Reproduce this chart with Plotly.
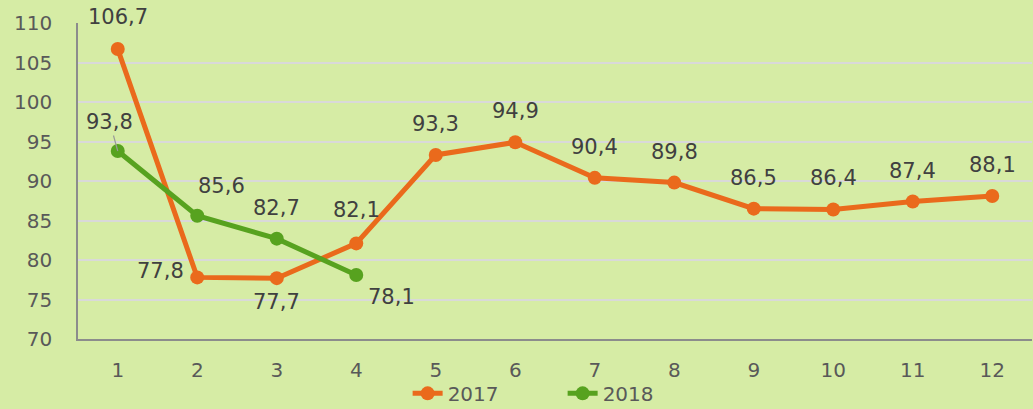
import plotly.graph_objects as go

months = [1, 2, 3, 4, 5, 6, 7, 8, 9, 10, 11, 12]
values_2017 = [106.7, 77.8, 77.7, 82.1, 93.3, 94.9, 90.4, 89.8, 86.5, 86.4, 87.4, 88.1]
months_2018 = [1, 2, 3, 4]
values_2018 = [93.8, 85.6, 82.7, 78.1]
y_ticks = [70, 75, 80, 85, 90, 95, 100, 105, 110]

# label offsets (pixels) per point
off_2017 = [(0, 32), (-37, 6), (0, -24), (0, 33)] + [(0, 31)] * 8
off_2018 = [(-8, 29), (24, 30), (0, 31), (35, -22)]

ORANGE = "#ea6a1c"
GREEN = "#57a21f"
BG = "#d6eca5"
FONT = "DejaVu Sans"
LBL = dict(family=FONT, size=21, color="#404040")

fig = go.Figure()
fig.add_trace(go.Scatter(x=months, y=values_2017, name="2017", mode="lines+markers",
                         line=dict(color=ORANGE, width=5), marker=dict(size=14, color=ORANGE)))
fig.add_trace(go.Scatter(x=months_2018, y=values_2018, name="2018", mode="lines+markers",
                         line=dict(color=GREEN, width=5), marker=dict(size=14, color=GREEN)))

def fmt(v):
    return f"{v:.1f}".replace(".", ",")

for m, v, (dx, dy) in zip(months, values_2017, off_2017):
    fig.add_annotation(x=m, y=v, text=fmt(v), showarrow=False, xshift=dx, yshift=dy, font=LBL)
for i, (m, v, (dx, dy)) in enumerate(zip(months_2018, values_2018, off_2018)):
    if i == 0:
        fig.add_annotation(x=m, y=v, text=fmt(v), showarrow=True, arrowhead=0, arrowwidth=1.2,
                           arrowcolor="#9a9a9a", ax=dx, ay=-dy, standoff=0, font=LBL)
    else:
        fig.add_annotation(x=m, y=v, text=fmt(v), showarrow=False, xshift=dx, yshift=dy, font=LBL)

fig.update_layout(
    width=1033, height=409,
    margin=dict(l=78, r=1, t=23, b=70, autoexpand=False),
    paper_bgcolor=BG, plot_bgcolor=BG,
    font=dict(family=FONT, size=20, color="#595959"),
    showlegend=True,
    legend=dict(orientation="h", x=0.508, xanchor="center", y=-0.172, yanchor="middle",
                yref="paper", font=dict(size=20, color="#595959"),
                entrywidth=110, bgcolor="rgba(0,0,0,0)"),
)
fig.update_xaxes(type="linear", range=[0.5, 12.5], tickvals=months, ticktext=[str(m) for m in months],
                 showgrid=False, showline=True, linecolor="#8c8c8c", linewidth=1.5,
                 ticks="", ticklabelstandoff=12, zeroline=False)
fig.update_yaxes(range=[70, 110], tickvals=y_ticks, showgrid=True, gridcolor="#d9d9d9", gridwidth=2,
                 showline=True, linecolor="#8c8c8c", linewidth=1.5, ticks="",
                 ticklabelstandoff=20, zeroline=False)

fig.write_html("out.html", config={"displayModeBar": False},
               post_script="document.body.style.margin='0';document.body.style.overflow='hidden';")
